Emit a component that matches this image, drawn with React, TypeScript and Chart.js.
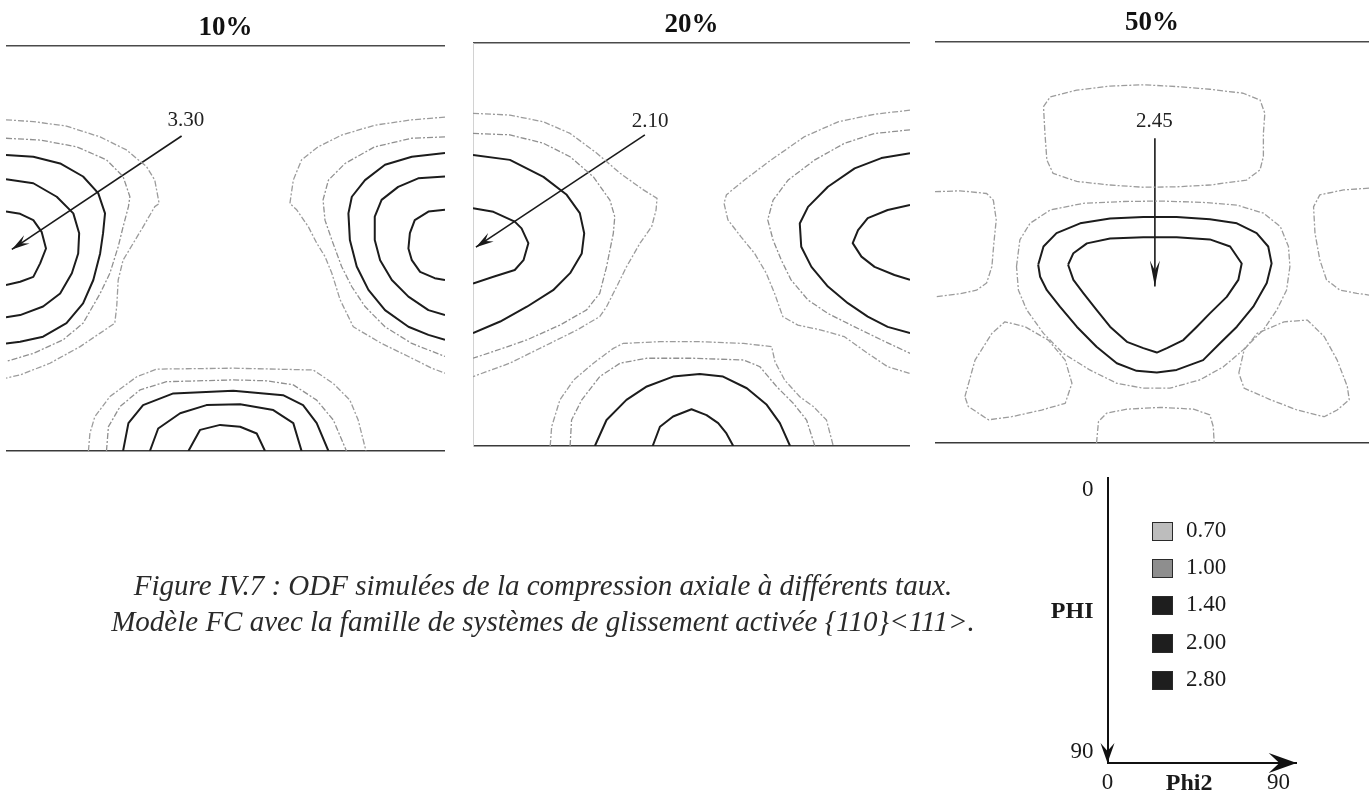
import React, { useEffect, useRef } from "react";
import { Chart, registerables } from "chart.js";

Chart.register(...registerables);

type Pt = [number, number];

// ===================== DATA (Phi2 on x, PHI on y, degrees 0..90) =====================

// ---- 10% ----
const P10_L070: Pt[] = [[0,16.4],[5.6,16.8],[12.4,17.8],[19.3,20.2],[24.7,23.1],[28.8,26.8],[30.5,29.8],[31.4,35.0],[30.5,35.7],[28.1,40.2],[26.1,43.8],[24.0,47.6],[23.0,52.0],[22.7,57.9],[22.3,61.6],[19.3,63.8],[15.2,66.8],[9.0,70.5],[2.9,73.1],[0,73.8]];
const P10_L100: Pt[] = [[0,20.5],[7.0,20.9],[14.5,22.4],[20.6,25.3],[24.0,29.0],[25.4,33.5],[25.1,35.7],[24.0,40.2],[23.0,44.6],[21.3,50.5],[19.3,55.0],[15.8,61.6],[11.7,65.3],[5.6,68.3],[0,70.1]];
const P10_L140: Pt[] = [[0,24.2],[5.6,24.6],[11.1,26.1],[15.8,29.0],[18.9,32.7],[20.3,37.2],[19.9,41.6],[19.3,46.1],[17.9,52.0],[15.8,57.2],[12.4,61.6],[7.6,64.6],[2.9,65.7],[0,66.1]];
const P10_L200: Pt[] = [[0,29.6],[5.6,30.5],[10.4,33.5],[13.8,37.2],[15.0,41.6],[14.8,46.1],[13.5,50.5],[11.1,55.0],[7.6,57.9],[2.9,59.8],[0,60.3]];
const P10_L280: Pt[] = [[0,36.8],[2.9,37.3],[5.6,38.7],[7.3,41.3],[8.2,45.0],[7.0,48.3],[5.6,51.3],[2.9,52.4],[0,53.1]];
const P10_R070: Pt[] = [[90,15.8],[83.2,16.4],[75.6,17.6],[68.8,19.8],[64.0,22.4],[60.6,25.3],[58.9,29.8],[58.2,35.0],[59.6,36.4],[62.0,40.2],[63.7,43.8],[65.4,46.8],[66.8,50.5],[68.5,56.4],[71.2,62.4],[77.0,66.1],[82.5,69.0],[87.3,71.6],[90,72.7]];
const P10_R100: Pt[] = [[90,20.2],[83.2,20.5],[75.6,22.4],[69.5,26.1],[66.1,29.8],[65.0,34.2],[65.4,38.7],[66.8,43.1],[68.8,49.0],[70.9,53.5],[73.6,57.9],[77.7,62.4],[83.2,66.1],[90,69.0]];
const P10_R140: Pt[] = [[90,23.8],[83.2,24.6],[77.7,26.4],[73.6,29.8],[70.9,33.5],[70.2,37.2],[70.5,43.1],[71.9,49.0],[74.3,54.2],[77.7,58.7],[82.5,62.4],[86.6,64.2],[90,65.3]];
const P10_R200: Pt[] = [[90,29.0],[84.5,29.4],[80.4,31.3],[77.0,34.2],[75.6,37.9],[75.6,43.1],[76.7,47.6],[79.1,52.0],[82.5,55.7],[86.6,58.7],[90,59.8]];
const P10_R280: Pt[] = [[90,36.4],[86.6,36.8],[83.8,38.7],[82.8,41.6],[82.5,45.0],[83.2,47.6],[84.9,50.2],[87.9,51.6],[90,52.0]];
const P10_B070: Pt[] = [[16.9,90],[17.2,86.1],[18.2,82.4],[21.3,77.9],[26.8,73.5],[30.9,71.8],[46.6,71.6],[63.0,72.0],[67.1,75.0],[70.5,78.7],[72.2,83.1],[73.8,90]];
const P10_B100: Pt[] = [[20.6,90],[21.0,84.6],[23.4,80.1],[27.5,76.4],[32.9,74.6],[46.6,74.2],[53.4,74.4],[58.9,75.3],[63.7,78.7],[67.1,83.1],[69.8,90]];
const P10_B140: Pt[] = [[24.0,90],[25.1,83.8],[28.1,79.8],[34.3,77.2],[46.6,76.6],[56.8,77.6],[60.9,79.8],[63.7,83.8],[66.1,90]];
const P10_B200: Pt[] = [[29.5,90],[31.2,85.0],[35.7,81.6],[41.1,79.8],[48.0,79.6],[54.8,80.9],[58.9,83.8],[60.6,90]];
const P10_B280: Pt[] = [[37.4,90],[39.8,85.3],[43.9,84.2],[48.0,84.6],[51.4,86.1],[53.1,90]];
const P10_ARROW: Pt[] = [[36.0,20.0],[1.2,45.2]];
const P10_PEAK = "3.30";
const P10_PEAK_AT: Pt = [36.9,16.6];

// ---- 20% ----
const P20_L070: Pt[] = [[0,15.7],[7.6,16.1],[14.5,17.6],[20.0,20.2],[25.5,24.6],[30.3,29.1],[35.1,32.8],[37.9,34.7],[37.7,37.3],[36.8,41.0],[34.4,44.7],[31.6,50.0],[29.6,54.4],[27.5,58.9],[26.1,61.1],[21.4,64.1],[14.5,67.8],[7.6,71.5],[0,74.5]];
const P20_L100: Pt[] = [[0,20.2],[7.6,20.5],[14.5,22.4],[20.0,25.4],[24.8,29.9],[28.2,35.1],[29.2,38.8],[28.9,42.5],[27.5,50.0],[26.1,55.9],[23.4,59.6],[17.9,63.0],[11.1,66.3],[4.2,68.9],[0,70.4]];
const P20_L140: Pt[] = [[0,25.0],[7.6,26.1],[14.5,29.9],[19.3,33.9],[22.0,38.0],[22.9,42.5],[22.4,47.0],[20.0,51.4],[16.5,55.2],[11.1,58.9],[5.6,62.2],[0,64.8]];
const P20_L200: Pt[] = [[0,36.9],[4.2,37.7],[8.6,39.9],[10.0,41.4],[11.4,44.7],[10.4,48.5],[8.6,50.7],[4.2,52.2],[0,53.7]];
const P20_R070: Pt[] = [[90,15.0],[82.7,15.9],[75.2,17.6],[68.3,20.9],[61.4,26.1],[55.9,30.6],[52.2,33.9],[51.7,35.8],[52.5,39.5],[55.2,43.3],[58.0,47.0],[60.4,51.4],[62.1,55.9],[63.8,61.1],[66.9,63.0],[71.7,64.1],[76.5,65.6],[81.3,69.3],[85.4,72.3],[90,73.8]];
const P20_R100: Pt[] = [[90,19.4],[82.7,20.2],[76.5,22.4],[70.4,26.1],[64.9,30.6],[61.8,35.1],[60.7,39.5],[61.8,44.0],[63.5,48.5],[65.5,52.9],[69.0,57.4],[73.1,60.4],[78.6,63.4],[84.1,66.3],[90,69.3]];
const P20_R140: Pt[] = [[90,24.6],[84.1,25.7],[78.6,28.0],[73.1,32.1],[69.0,36.6],[67.3,40.3],[67.6,45.5],[69.7,50.0],[73.1,54.4],[77.2,58.1],[81.3,61.1],[85.4,63.4],[90,64.8]];
const P20_R200: Pt[] = [[90,36.2],[85.4,37.3],[81.3,39.1],[79.3,41.8],[78.2,44.7],[80.0,47.7],[82.7,50.0],[86.8,51.8],[90,52.9]];
const P20_B070: Pt[] = [[15.9,90],[16.2,85.7],[17.9,79.7],[20.7,75.3],[24.8,71.5],[28.9,68.2],[30.9,67.1],[38.5,66.7],[46.7,66.7],[55.7,67.1],[61.5,67.8],[62.2,71.2],[64.2,75.3],[67.3,79.0],[70.1,81.2],[72.8,84.2],[74.2,90]];
const P20_B100: Pt[] = [[20.0,90],[20.3,84.2],[22.4,79.7],[26.1,74.5],[30.3,71.5],[35.8,70.4],[45.4,70.4],[55.7,70.8],[59.1,72.3],[62.5,76.7],[66.0,80.5],[68.7,84.2],[70.4,90]];
const P20_B140: Pt[] = [[25.1,90],[27.5,84.2],[31.6,79.7],[35.8,76.7],[41.2,74.5],[46.7,73.9],[51.5,74.5],[56.4,77.1],[60.5,80.8],[63.2,84.9],[65.3,90]];
const P20_B200: Pt[] = [[37.0,90],[38.5,85.7],[41.2,83.4],[45.0,81.8],[48.1,83.1],[50.5,84.9],[52.2,87.2],[53.6,90]];
const P20_ARROW: Pt[] = [[35.4,20.5],[0.6,45.6]];
const P20_PEAK = "2.10";
const P20_PEAK_AT: Pt = [36.5,17.6];

// ---- 50% ----
const P50_TOP070: Pt[] = [[22.5,14.5],[23.9,12.3],[29.4,10.8],[36.3,9.9],[43.2,9.6],[50.1,10.0],[57.0,10.6],[63.9,11.5],[67.4,13.0],[68.4,16.0],[68.1,20.5],[68.1,25.7],[67.4,28.7],[64.6,31.0],[57.0,32.1],[50.1,32.5],[43.2,32.6],[36.3,32.1],[29.4,31.3],[24.5,29.5],[23.2,26.5],[22.8,20.5]];
const P50_LEFT070: Pt[] = [[0,33.6],[5.2,33.4],[10.7,34.0],[12.1,35.5],[12.7,39.9],[12.2,45.2],[11.8,50.4],[10.7,54.1],[8.6,55.7],[5.2,56.5],[0,57.2]];
const P50_RIGHT070: Pt[] = [[90,32.8],[84.7,33.2],[79.8,34.3],[78.5,37.0],[78.8,42.9],[79.8,48.9],[81.2,53.4],[84.0,55.7],[87.5,56.4],[90,56.8]];
const P50_LL070: Pt[] = [[6.2,79.6],[8.3,71.4],[11.8,65.4],[14.5,62.8],[18.7,63.9],[23.5,66.9],[27.0,71.4],[28.4,76.6],[27.0,81.1],[22.1,82.6],[15.9,84.1],[11.1,84.8],[6.9,81.8]];
const P50_LR070: Pt[] = [[63.0,74.3],[64.1,69.1],[66.8,65.4],[72.4,62.8],[77.2,62.4],[80.7,66.1],[83.4,71.4],[85.5,77.3],[85.9,80.3],[83.4,82.6],[80.7,84.1],[75.1,82.6],[69.6,80.3],[64.1,77.7]];
const P50_BOT070: Pt[] = [[33.5,90],[33.9,85.2],[35.6,83.3],[39.8,82.4],[46.7,82.0],[53.6,82.4],[57.0,83.7],[57.7,86.3],[57.9,90]];
const P50_C070: Pt[] = [[16.9,50.4],[17.6,44.4],[19.7,40.7],[23.9,37.7],[30.8,36.2],[39.1,35.8],[46.7,35.7],[55.6,36.0],[62.6,36.6],[68.1,38.4],[71.6,41.4],[73.3,45.9],[73.6,50.4],[72.9,55.7],[70.9,60.1],[68.1,64.6],[63.9,69.1],[59.8,72.9],[55.0,75.8],[48.7,77.7],[43.2,77.7],[37.7,76.6],[32.1,73.6],[26.6,69.9],[22.5,65.4],[19.0,60.1],[17.3,55.7]];
const P50_C140: Pt[] = [[21.4,50.0],[22.5,45.9],[25.2,42.9],[30.1,40.7],[36.3,39.6],[43.2,39.3],[50.1,39.3],[57.0,39.8],[62.6,40.7],[66.7,42.9],[69.1,45.9],[69.8,49.7],[68.8,54.1],[66.0,59.4],[62.6,63.9],[59.1,67.6],[55.6,71.4],[50.1,73.6],[46.0,74.2],[41.8,73.8],[37.7,72.1],[33.5,68.4],[29.4,63.9],[25.9,59.4],[23.2,55.7],[21.8,52.7]];
const P50_C200: Pt[] = [[27.6,50.0],[28.7,47.4],[31.5,45.2],[36.3,44.1],[43.2,43.8],[50.1,43.8],[57.0,44.3],[61.2,45.9],[63.6,49.7],[62.9,53.4],[60.5,57.2],[57.0,60.9],[54.3,63.9],[51.5,66.9],[48.1,68.7],[46.0,69.7],[43.2,68.7],[39.8,67.3],[36.3,63.9],[33.5,60.1],[30.8,56.4],[28.7,53.4]];
const P50_ARROW: Pt[] = [[45.6,21.6],[45.6,54.9]];
const P50_PEAK = "2.45";
const P50_PEAK_AT: Pt = [45.5,17.9];

// ---- contour levels / legend ----
const LEVELS = [0.7, 1.0, 1.4, 2.0, 2.8];
const LEVEL_LABELS = ["0.70", "1.00", "1.40", "2.00", "2.80"];

// ---- orientation key ----
const KEY_X_TICKS = [0, 43, 90];
const KEY_X_LABELS = ["0", "Phi2", "90"];
const KEY_Y_TICKS = [0, 42, 90];
const KEY_Y_LABELS = ["0", "PHI", "90"];
const KEY_X_RANGE: Pt = [0, 99.6];
const KEY_Y_RANGE: Pt = [-4.2, 93.9];

const CAPTION_LINES = [
  "Figure IV.7 : ODF simulées de la compression axiale à différents taux.",
  "Modèle FC avec la famille de systèmes de glissement activée {110}<111>.",
];

// ===================== STYLES =====================
const SERIF = "'Liberation Serif', 'Times New Roman', serif";
const LEVEL_LINE_COLOR = ["#9c9c9c", "#909090", "#1c1c1c", "#1c1c1c", "#1c1c1c"];
const LEVEL_LINE_DASH: number[][] = [[6, 2, 2, 2], [6, 2, 2, 2], [], [], []];
const LEVEL_LINE_WIDTH = [1.3, 1.3, 2, 2, 2];
const LEVEL_SWATCH = ["#bdbdbd", "#8e8e8e", "#1e1e1e", "#1e1e1e", "#1e1e1e"];

type Contour = { level: number; pts: Pt[]; closed?: boolean };
type PanelSpec = {
  title: string;
  contours: Contour[];
  arrow: Pt[];
  peak: string;
  peakAt: Pt;
  left: number;
  width: number;
  areaTop: number;
  areaBottom: number;
  titleTop: number;
  side: "left" | "right" | null;
  headLen: number;
};

const PANELS: PanelSpec[] = [
  {
    title: "10%",
    contours: [
      { level: 0.7, pts: P10_L070 }, { level: 1.0, pts: P10_L100 }, { level: 1.4, pts: P10_L140 },
      { level: 2.0, pts: P10_L200 }, { level: 2.8, pts: P10_L280 },
      { level: 0.7, pts: P10_R070 }, { level: 1.0, pts: P10_R100 }, { level: 1.4, pts: P10_R140 },
      { level: 2.0, pts: P10_R200 }, { level: 2.8, pts: P10_R280 },
      { level: 0.7, pts: P10_B070 }, { level: 1.0, pts: P10_B100 }, { level: 1.4, pts: P10_B140 },
      { level: 2.0, pts: P10_B200 }, { level: 2.8, pts: P10_B280 },
    ],
    arrow: P10_ARROW, peak: P10_PEAK, peakAt: P10_PEAK_AT,
    left: 6, width: 439, areaTop: 46, areaBottom: 451, titleTop: 12, side: "right", headLen: 18,
  },
  {
    title: "20%",
    contours: [
      { level: 0.7, pts: P20_L070 }, { level: 1.0, pts: P20_L100 }, { level: 1.4, pts: P20_L140 },
      { level: 2.0, pts: P20_L200 },
      { level: 0.7, pts: P20_R070 }, { level: 1.0, pts: P20_R100 }, { level: 1.4, pts: P20_R140 },
      { level: 2.0, pts: P20_R200 },
      { level: 0.7, pts: P20_B070 }, { level: 1.0, pts: P20_B100 }, { level: 1.4, pts: P20_B140 },
      { level: 2.0, pts: P20_B200 },
    ],
    arrow: P20_ARROW, peak: P20_PEAK, peakAt: P20_PEAK_AT,
    left: 473, width: 437, areaTop: 43, areaBottom: 446, titleTop: 8.5, side: "left", headLen: 18,
  },
  {
    title: "50%",
    contours: [
      { level: 0.7, pts: P50_TOP070, closed: true },
      { level: 0.7, pts: P50_LEFT070 },
      { level: 0.7, pts: P50_RIGHT070 },
      { level: 0.7, pts: P50_LL070, closed: true },
      { level: 0.7, pts: P50_LR070, closed: true },
      { level: 0.7, pts: P50_BOT070 },
      { level: 0.7, pts: P50_C070, closed: true },
      { level: 1.4, pts: P50_C140, closed: true },
      { level: 2.0, pts: P50_C200, closed: true },
    ],
    arrow: P50_ARROW, peak: P50_PEAK, peakAt: P50_PEAK_AT,
    left: 935, width: 434, areaTop: 42, areaBottom: 443, titleTop: 7, side: null, headLen: 26,
  },
];

function drawHead(ctx: CanvasRenderingContext2D, x: number, y: number, ang: number, len: number, half: number, notch: number) {
  ctx.save();
  ctx.translate(x, y);
  ctx.rotate(ang);
  ctx.beginPath();
  ctx.moveTo(0, 0);
  ctx.lineTo(-len, -half);
  ctx.lineTo(-len * notch, 0);
  ctx.lineTo(-len, half);
  ctx.closePath();
  ctx.fill();
  ctx.restore();
}

function ContourPanel({ spec }: { spec: PanelSpec }) {
  const ref = useRef<HTMLCanvasElement>(null);
  const height = spec.areaBottom + 2;
  useEffect(() => {
    const canvas = ref.current;
    if (!canvas) return;
    const datasets: any[] = spec.contours.map((c) => {
      const li = LEVELS.indexOf(c.level);
      const pts = c.closed ? [...c.pts, c.pts[0]] : c.pts;
      return {
        label: LEVEL_LABELS[li],
        data: pts.map(([x, y]) => ({ x, y })),
        showLine: true,
        borderColor: LEVEL_LINE_COLOR[li],
        borderWidth: LEVEL_LINE_WIDTH[li],
        borderDash: LEVEL_LINE_DASH[li],
        borderJoinStyle: "round",
        pointRadius: 0,
        tension: 0,
        fill: false,
        xAxisID: "x",
        yAxisID: "y",
      };
    });
    datasets.push({
      label: "max " + spec.peak,
      data: spec.arrow.map(([x, y]) => ({ x, y })),
      showLine: true,
      borderColor: "#1a1a1a",
      borderWidth: 1.6,
      pointRadius: 0,
      tension: 0,
      xAxisID: "x",
      yAxisID: "y",
      isArrow: true,
    });

    const marks = {
      id: "odfMarks",
      afterDatasetsDraw(chart: any) {
        const ctx = chart.ctx as CanvasRenderingContext2D;
        chart.data.datasets.forEach((ds: any, i: number) => {
          if (!ds.isArrow) return;
          const pts = chart.getDatasetMeta(i).data;
          const a = pts[pts.length - 2];
          const b = pts[pts.length - 1];
          ctx.fillStyle = "#1a1a1a";
          drawHead(ctx, b.x, b.y, Math.atan2(b.y - a.y, b.x - a.x), spec.headLen, 5, 0.62);
        });
        const px = chart.scales.x.getPixelForValue(spec.peakAt[0]);
        const py = chart.scales.y.getPixelForValue(spec.peakAt[1]);
        ctx.save();
        ctx.font = `21px ${SERIF}`;
        ctx.fillStyle = "#222";
        ctx.textAlign = "center";
        ctx.textBaseline = "middle";
        ctx.fillText(spec.peak, px, py);
        ctx.restore();
      },
    };

    const hiddenAxis = (position: string, color: string, width: number) => ({
      type: "linear",
      position,
      min: 0,
      max: 90,
      ticks: { display: false },
      grid: { display: false, drawTicks: false },
      border: { display: true, color, width },
    });

    const scales: any = {
      x: hiddenAxis("bottom", "#3a3a3a", 1.5),
      xTop: hiddenAxis("top", "#4a4a4a", 1.5),
      y: { type: "linear", min: 0, max: 90, reverse: true, display: false },
    };
    if (spec.side) {
      scales.ySide = { ...hiddenAxis(spec.side, "#d2d2d2", 1), reverse: true };
    }

    const chart = new Chart(canvas, {
      type: "scatter",
      data: { datasets },
      options: {
        responsive: false,
        animation: false,
        devicePixelRatio: 1,
        events: [],
        layout: { padding: { left: 0, right: 0, top: 0, bottom: 2 } },
        plugins: {
          legend: { display: false },
          tooltip: { enabled: false },
          title: {
            display: true,
            text: spec.title,
            color: "#111",
            font: { family: SERIF, size: 27, weight: "bold", lineHeight: 1.2 },
            padding: { top: spec.titleTop, bottom: spec.areaTop - spec.titleTop - 32.4 },
          },
        },
        scales,
      } as any,
      plugins: [marks as any],
    });
    return () => chart.destroy();
  }, [spec]);
  return (
    <canvas
      ref={ref}
      width={spec.width}
      height={height}
      style={{ position: "absolute", left: spec.left, top: 0, width: spec.width, height }}
    />
  );
}

function OrientationKey() {
  const ref = useRef<HTMLCanvasElement>(null);
  const L = 1020, T = 450, W = 349, H = 350;
  useEffect(() => {
    const canvas = ref.current;
    if (!canvas) return;
    const heads = {
      id: "keyHeads",
      afterDraw(chart: any) {
        const ctx = chart.ctx as CanvasRenderingContext2D;
        const a = chart.chartArea;
        ctx.fillStyle = "#111";
        drawHead(ctx, a.left, a.bottom, Math.PI / 2, 20, 7, 0.6);
        drawHead(ctx, a.right, a.bottom, 0, 28, 10, 0.62);
      },
    };
    const tickFont = (ctx: any) => ({
      family: SERIF,
      size: ctx.index === 1 ? 24 : 23,
      weight: ctx.index === 1 ? "bold" : "normal",
    });
    const chart = new Chart(canvas, {
      type: "scatter",
      data: { datasets: [] },
      options: {
        responsive: false,
        animation: false,
        devicePixelRatio: 1,
        events: [],
        layout: { padding: { left: 0, right: 72.3, top: 12, bottom: 0 } },
        plugins: { legend: { display: false }, tooltip: { enabled: false }, title: { display: false } },
        scales: {
          x: {
            type: "linear",
            position: "bottom",
            min: KEY_X_RANGE[0],
            max: KEY_X_RANGE[1],
            afterBuildTicks: (s: any) => { s.ticks = KEY_X_TICKS.map((v) => ({ value: v })); },
            afterFit: (s: any) => { s.height = 37; },
            grid: { display: false, drawTicks: false },
            border: { display: true, color: "#111", width: 2 },
            ticks: {
              autoSkip: false, maxRotation: 0, padding: 6, color: "#1a1a1a", font: tickFont,
              callback: (_v: any, i: number) => KEY_X_LABELS[i],
            },
          },
          y: {
            type: "linear",
            position: "left",
            reverse: true,
            min: KEY_Y_RANGE[0],
            max: KEY_Y_RANGE[1],
            afterBuildTicks: (s: any) => { s.ticks = KEY_Y_TICKS.map((v) => ({ value: v })); },
            afterFit: (s: any) => { s.width = 87.5; },
            grid: { display: false, drawTicks: false },
            border: { display: true, color: "#111", width: 2 },
            ticks: {
              autoSkip: false, padding: 14, color: "#1a1a1a", font: tickFont,
              callback: (_v: any, i: number) => KEY_Y_LABELS[i],
            },
          },
        },
      } as any,
      plugins: [heads as any],
    });
    return () => chart.destroy();
  }, []);
  return (
    <canvas ref={ref} width={W} height={H}
      style={{ position: "absolute", left: L, top: T, width: W, height: H }} />
  );
}

function LevelLegend() {
  return (
    <div style={{ position: "absolute", left: 1152, top: 521, fontFamily: SERIF }}>
      {LEVEL_LABELS.map((lab, i) => (
        <div key={lab} style={{ position: "absolute", left: 0, top: i * 37.2, height: 20, width: 120 }}>
          <div style={{
            position: "absolute", left: 0, top: 1, width: 19, height: 17,
            background: LEVEL_SWATCH[i], border: "1px solid #2a2a2a",
          }} />
          <div style={{
            position: "absolute", left: 34, top: -6, fontSize: 23, lineHeight: "30px",
            color: "#1a1a1a", whiteSpace: "nowrap",
          }}>{lab}</div>
        </div>
      ))}
    </div>
  );
}

function Caption() {
  return (
    <div style={{
      position: "absolute", left: 0, top: 567, width: 1086, textAlign: "center",
      fontFamily: SERIF, fontStyle: "italic", fontSize: 29, lineHeight: "36px", color: "#2a2a2a",
    }}>
      {CAPTION_LINES.map((l) => <div key={l} style={{ whiteSpace: "nowrap" }}>{l}</div>)}
    </div>
  );
}

export default function App() {
  return (
    <div style={{
      position: "fixed", left: 0, top: 0, width: 1369, height: 800,
      background: "#ffffff", overflow: "hidden",
    }}>
      {PANELS.map((p) => <ContourPanel key={p.title} spec={p} />)}
      <OrientationKey />
      <LevelLegend />
      <Caption />
    </div>
  );
}
